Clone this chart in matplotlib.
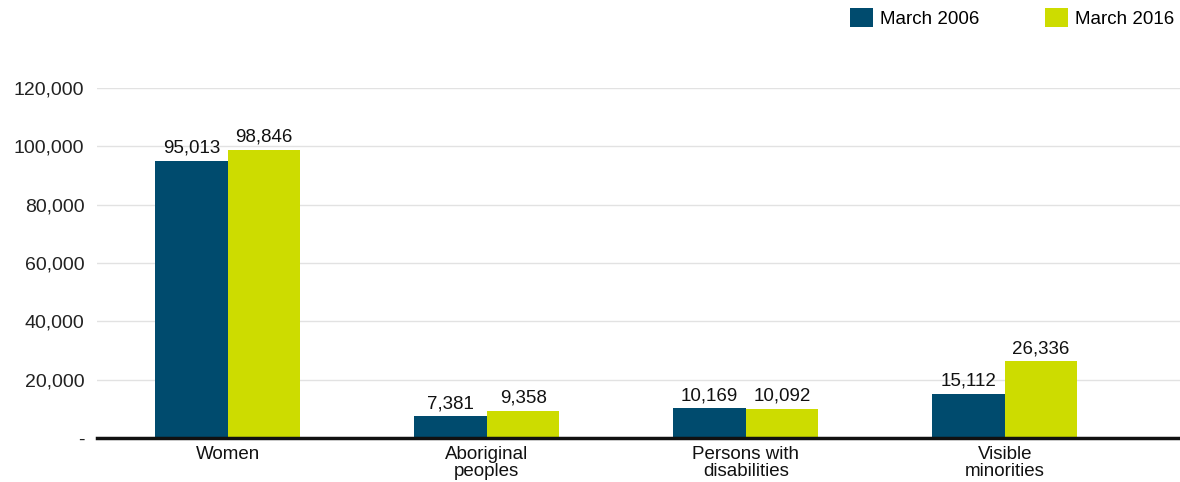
import numpy as np
import matplotlib.pyplot as plt
from matplotlib.ticker import FuncFormatter

categories = ["Women", "Aboriginal\npeoples", "Persons with\ndisabilities", "Visible\nminorities"]
series_names = ["March 2006", "March 2016"]
values_2006 = [95013, 7381, 10169, 15112]
values_2016 = [98846, 9358, 10092, 26336]
colors = ["#004b6e", "#cddc00"]

plt.rcParams['font.family'] = ['Liberation Sans', 'DejaVu Sans']

fig = plt.figure(figsize=(11.8, 4.82), dpi=100)
ax = fig.add_axes([0.082, 0.0913, 0.918, 0.726])

x = np.arange(len(categories))
w = 0.28
for vals, off, col, name in [(values_2006, -w / 2, colors[0], series_names[0]),
                             (values_2016, w / 2, colors[1], series_names[1])]:
    bars = ax.bar(x + off, vals, width=w, color=col, label=name, zorder=3)
    for b, v in zip(bars, vals):
        ax.annotate(f"{v:,}", (b.get_x() + b.get_width() / 2, v), xytext=(0, 3),
                    textcoords="offset points", ha="center", va="bottom",
                    fontsize=13.5, color="#111111")

ax.set_ylim(0, 120000)
ax.set_xlim(-0.506, 3.676)
ax.set_yticks(range(0, 120001, 20000))
ax.yaxis.set_major_formatter(FuncFormatter(lambda v, p: "-" if v == 0 else f"{int(v):,}"))
ax.set_xticks(x)
ax.set_xticklabels(categories, fontsize=13.5, linespacing=0.95)
ax.tick_params(axis="y", length=0, pad=9, labelsize=14, colors="#222222")
ax.tick_params(axis="x", length=0, pad=6, colors="#111111")
ax.grid(axis="y", color="#e2e2e2", linewidth=1, zorder=0)
for s in ["top", "right", "left"]:
    ax.spines[s].set_visible(False)
ax.spines["bottom"].set_linewidth(2.5)
ax.spines["bottom"].set_color("#111111")
ax.spines["bottom"].set_zorder(4)

fig.legend(loc="upper right", bbox_to_anchor=(1.0, 0.995), ncol=2, frameon=False,
           fontsize=13.5, handlelength=1.2, handleheight=1.2, columnspacing=3.5,
           handletextpad=0.4, borderaxespad=0.0, borderpad=0.3)

fig.savefig("out.png", dpi=100)
